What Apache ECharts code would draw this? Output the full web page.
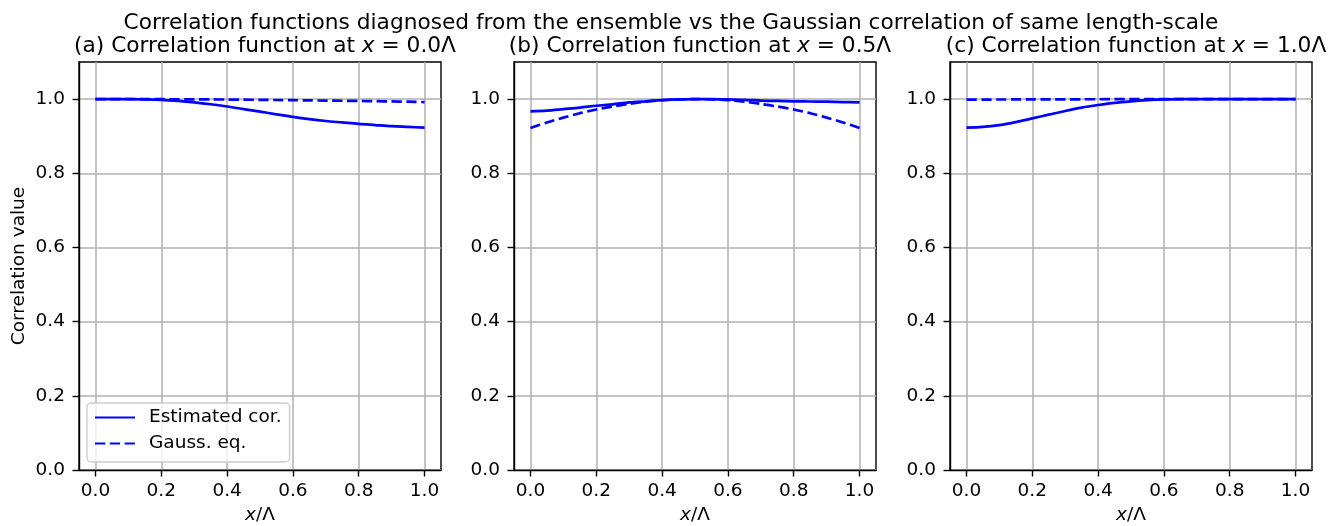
<!DOCTYPE html>
<html><head><meta charset="utf-8">
<script src="https://cdn.jsdelivr.net/npm/echarts@6/dist/echarts.min.js"></script>
<style>html,body{margin:0;padding:0;background:#fff}#c{width:1333px;height:526px}</style>
</head><body><div id="c"></div>
<script>
const xs = [0,0.05,0.1,0.15,0.2,0.25,0.3,0.35,0.4,0.45,0.5,0.55,0.6,0.65,0.7,0.75,0.8,0.85,0.9,0.95,1.0];
const estA = [1.000,1.000,1.000,0.9995,0.998,0.995,0.991,0.986,0.980,0.973,0.966,0.959,0.952,0.946,0.941,0.937,0.933,0.930,0.927,0.925,0.923];
const gaussA = [1.000,1.000,1.000,0.9998,0.9997,0.9995,0.9993,0.9991,0.9988,0.9984,0.998,0.9975,0.997,0.9965,0.996,0.9955,0.995,0.9944,0.9937,0.993,0.992];
const estB = [0.967,0.969,0.973,0.977,0.982,0.986,0.991,0.994,0.997,0.999,1.000,1.000,0.999,0.998,0.996,0.995,0.994,0.9935,0.993,0.992,0.991];
const gaussB = [0.922,0.937,0.950,0.962,0.972,0.980,0.987,0.993,0.997,0.999,1.000,0.999,0.997,0.993,0.987,0.980,0.972,0.962,0.950,0.937,0.922];
const estC = [0.923,0.925,0.930,0.938,0.948,0.958,0.968,0.977,0.984,0.990,0.994,0.997,0.999,1.000,1.000,1.000,1.000,1.000,1.000,1.000,1.000];
const gaussC = [0.9985,0.9987,0.9989,0.999,0.9991,0.9993,0.9994,0.9995,0.9996,0.9997,0.9998,0.9999,1.000,1.000,1.000,1.000,1.000,1.000,1.000,1.000,1.000];
const xTicks = [0,0.2,0.4,0.6,0.8,1.0];
const yTicks = [0,0.2,0.4,0.6,0.8,1.0];
const panelTitles = [['(a) Correlation function at ','0.0Λ'],['(b) Correlation function at ','0.5Λ'],['(c) Correlation function at ','1.0Λ']];
const mainTitle = 'Correlation functions diagnosed from the ensemble vs the Gaussian correlation of same length-scale';

const FONT = 'DejaVu Sans';
const FS = 18.5;
const TFS = 21.7;
const lefts = [79, 514, 950];
const W = 362;
const est = [estA, estB, estC];
const gau = [gaussA, gaussB, gaussC];
const pairs = a => xs.map((x,i)=>[x,a[i]]);

const grids = lefts.map(l=>({left:l, top:62, width:W, height:408, show:true, borderColor:'#000', borderWidth:1.4, backgroundColor:'transparent', containLabel:false, outerBoundsMode:'none'}));
const xAxes = lefts.map((l,i)=>({
  type:'value', gridIndex:i, min:-0.05, max:1.05,
  name:'{i|x}/Λ', nameLocation:'middle', nameGap:36,
  nameTextStyle:{fontFamily:FONT, fontSize:FS, color:'#000', rich:{i:{fontStyle:'italic', fontFamily:FONT, fontSize:FS, color:'#000'}}},
  axisLine:{show:true, onZero:false, lineStyle:{color:'#000', width:1.4}},
  axisTick:{show:true, length:6.5, inside:false, customValues:xTicks, lineStyle:{color:'#000', width:1.4}},
  axisLabel:{show:true, margin:12, customValues:xTicks, fontFamily:FONT, fontSize:FS, color:'#000', formatter:v=>v.toFixed(1)},
  splitLine:{show:true, lineStyle:{color:'#b0b0b0', width:1.5}}
}));
const yAxes = lefts.map((l,i)=>({
  type:'value', gridIndex:i, min:0, max:1.1,
  name: i===0 ? 'Correlation value' : '', nameLocation:'middle', nameGap:50,
  nameTextStyle:{fontFamily:FONT, fontSize:FS, color:'#000'},
  axisLine:{show:true, onZero:false, lineStyle:{color:'#000', width:1.4}},
  axisTick:{show:true, length:6.5, inside:false, customValues:yTicks, lineStyle:{color:'#000', width:1.4}},
  axisLabel:{show:true, margin:14, customValues:yTicks, fontFamily:FONT, fontSize:FS, color:'#000', formatter:v=>v.toFixed(1)},
  splitLine:{show:true, lineStyle:{color:'#b0b0b0', width:1.5}}
}));
const series = [];
for (let i=0;i<3;i++){
  series.push({name:'Estimated cor.', type:'line', xAxisIndex:i, yAxisIndex:i, data:pairs(est[i]), symbol:'none', smooth:0.3, lineStyle:{color:'#0000ff', width:2.7, type:'solid'}, itemStyle:{color:'#0000ff'}, z:3});
  series.push({name:'Gauss. eq.', type:'line', xAxisIndex:i, yAxisIndex:i, data:pairs(gau[i]), symbol:'none', smooth:0.3, lineStyle:{color:'#0000ff', width:2.7, type:[10.3,4.5]}, itemStyle:{color:'#0000ff'}, z:3});
}
const titles = [{text:mainTitle, left:666, top:7, textAlign:'center', textStyle:{fontFamily:FONT, fontSize:TFS, fontWeight:'normal', color:'#000'}}];
panelTitles.forEach((t,i)=>{
  titles.push({text:t[0]+'{i|x} = '+t[1], left:lefts[i]+W/2, top:30, textAlign:'center',
    textStyle:{fontFamily:FONT, fontSize:TFS, fontWeight:'normal', color:'#000', rich:{i:{fontStyle:'italic', fontFamily:FONT, fontSize:TFS, color:'#000'}}}});
});
const chart = echarts.init(document.getElementById('c'), null, {renderer:'canvas'});
chart.setOption({
  animation:false,
  title:titles,
  grid:grids, xAxis:xAxes, yAxis:yAxes, series:series,
  legend:{show:true, orient:'vertical', left:87, top:403, data:['Estimated cor.','Gauss. eq.'],
    itemWidth:40, itemHeight:14, itemGap:7, padding:[5,8,9,7],
    itemStyle:{opacity:0},
    backgroundColor:'rgba(255,255,255,0.8)', borderColor:'#cccccc', borderWidth:1.4, borderRadius:4,
    textStyle:{fontFamily:FONT, fontSize:FS, color:'#000', padding:[0,0,0,9]}}
});
</script></body></html>
